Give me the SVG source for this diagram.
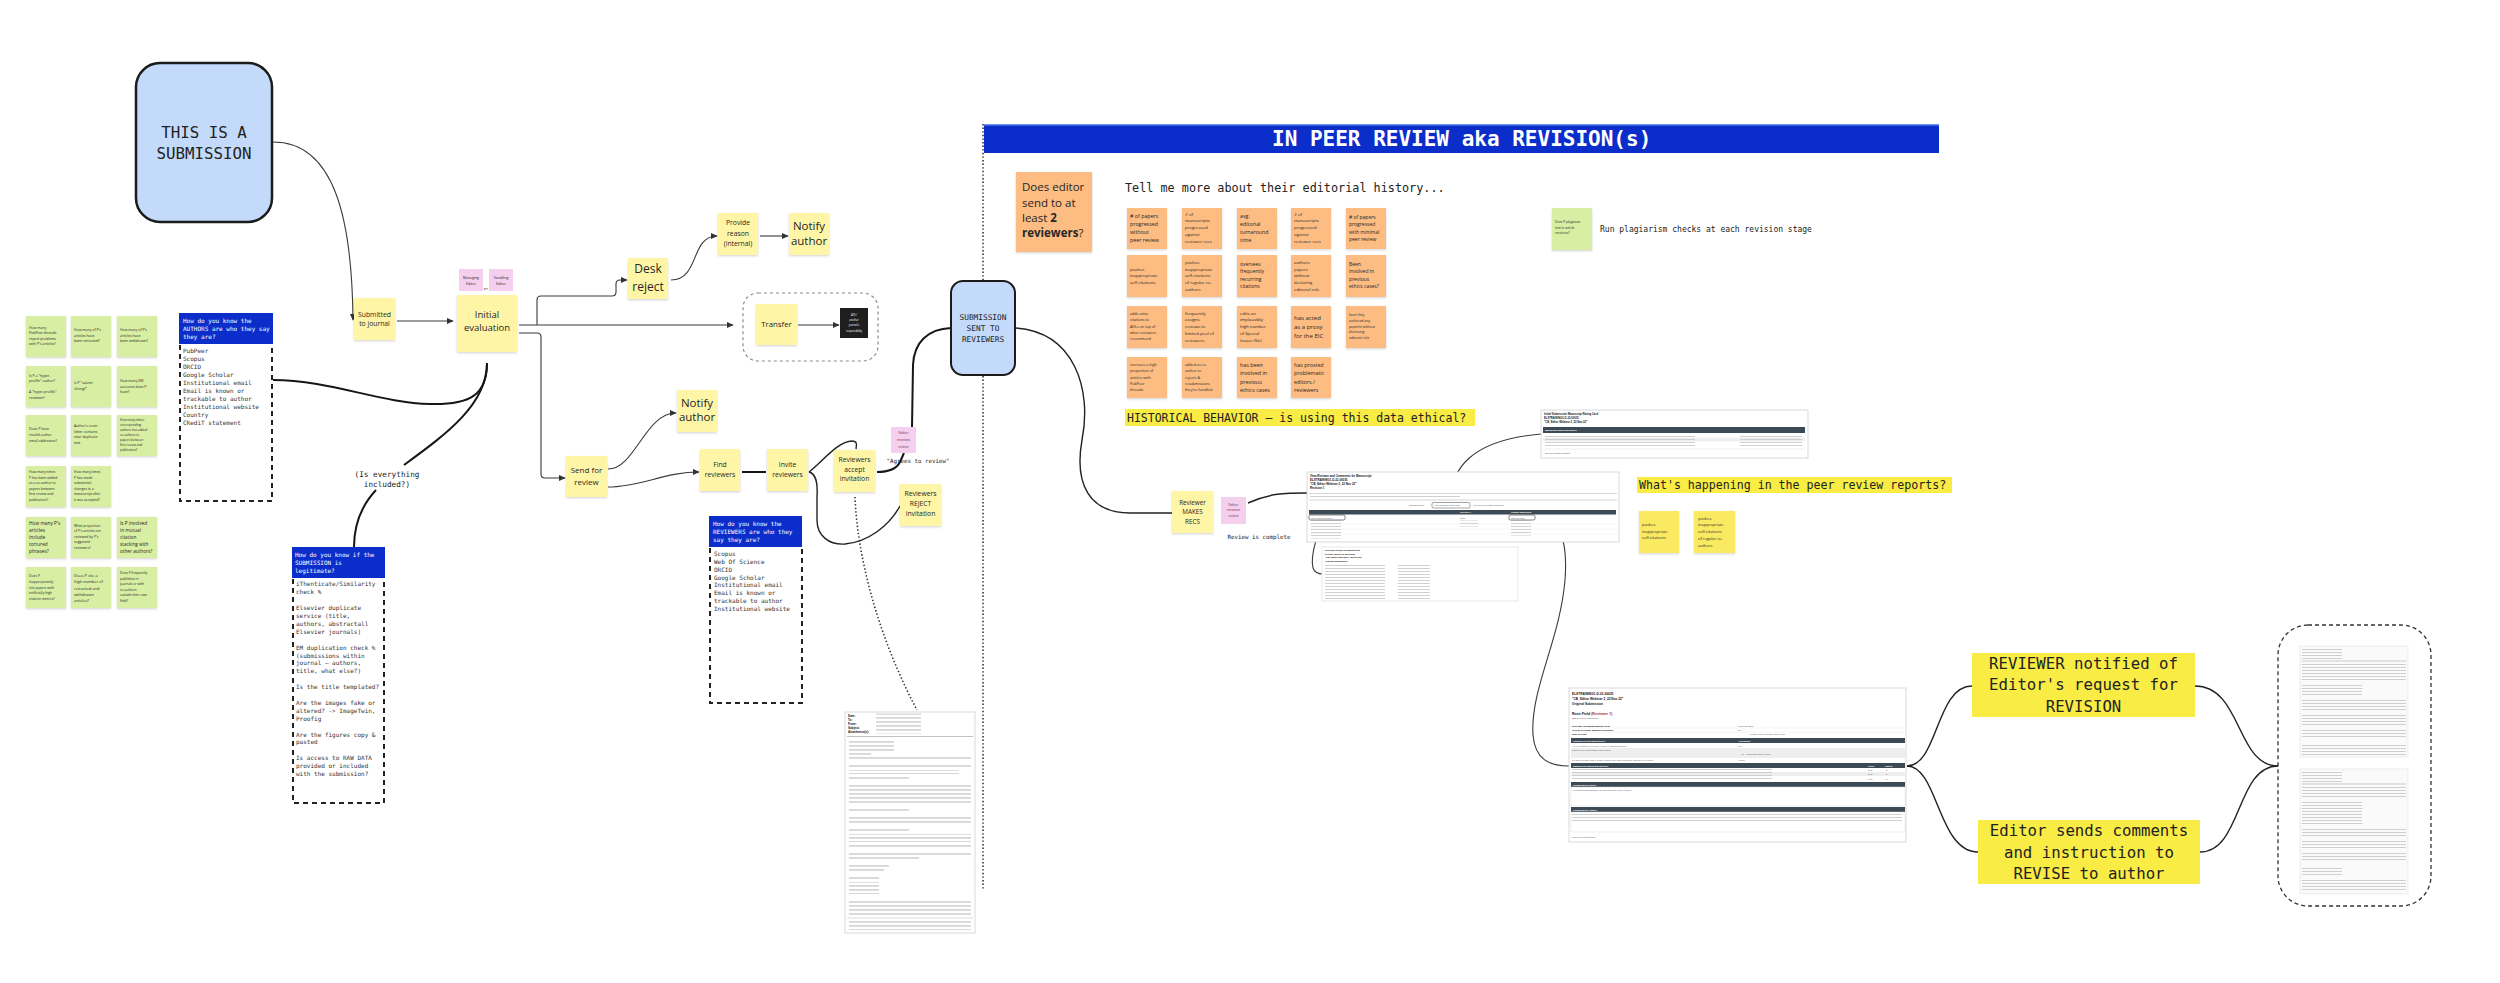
<svg xmlns="http://www.w3.org/2000/svg" width="2500" height="983" viewBox="0 0 2500 983">
<defs>
<filter id="sh" x="-15%" y="-15%" width="130%" height="140%"><feDropShadow dx="0" dy="1.2" stdDeviation="1" flood-color="#000" flood-opacity="0.16"/></filter>
<marker id="ah" viewBox="0 0 10 10" refX="9" refY="5" markerWidth="7" markerHeight="7" markerUnits="userSpaceOnUse" orient="auto"><path d="M0,0.5 L10,5 L0,9.5 z" fill="#333"/></marker>
<pattern id="tl" width="8" height="4" patternUnits="userSpaceOnUse"><rect y="1.4" width="8" height="1.1" fill="#bdbdbd"/></pattern>
<pattern id="tl2" width="8" height="3" patternUnits="userSpaceOnUse"><rect y="1" width="8" height="0.8" fill="#c4c4c4"/></pattern>
<style>
.sn{font-family:"Open Sans","Noto Sans","Liberation Sans",sans-serif;fill:#262626}
.mn{font-family:"DejaVu Sans Mono","Liberation Mono",monospace;fill:#222}
.c{text-anchor:middle}
.ys{fill:#fef6a6;filter:url(#sh)}
.gs{fill:#d7eea3;filter:url(#sh)}
.os{fill:#fcbc82;filter:url(#sh)}
.ps{fill:#f5d0ee}
.hy{fill:#f8ec45}
.bh{fill:#0b2ecb}
.wt{fill:#fff}
.db{fill:none;stroke:#222;stroke-width:2;stroke-dasharray:5 4}
.ar{fill:none;stroke:#3a3a3a;stroke-width:1.1;marker-end:url(#ah)}
.ln{fill:none;stroke:#3a3a3a;stroke-width:1.1}
.tk{fill:none;stroke:#161616;stroke-width:2}
.md{fill:none;stroke:#222;stroke-width:1.4}
.dt{fill:none;stroke:#333;stroke-width:1.6;stroke-dasharray:1.4 2.2}
.doc{fill:#fff;stroke:#cfcfcf;stroke-width:0.8}
.dk{fill:#3c4a56}
.tb{font-family:"Liberation Sans",Arial,sans-serif;font-weight:bold;fill:#111}
.tt{font-family:"Liberation Sans",Arial,sans-serif;fill:#555}
.tw{font-family:"Liberation Sans",Arial,sans-serif;font-weight:bold;fill:#fff}
</style>
</defs>
<rect width="2500" height="983" fill="#ffffff"/>

<g id="connectors">
<path class="ar" d="M273,142 C335,142 352,220 353,320"/>
<path class="ar" d="M397,321 H453"/>
<path class="ar" d="M537,325 V300 Q537,296 541,296 H612 Q616,296 616,292 V284 Q616,280 620,280 H627"/>
<path class="ar" d="M519,325 H733"/>
<path class="ar" d="M519,333 H537 Q541,333 541,337 V474 Q541,478 545,478 H565"/>
<path class="ar" d="M671,280 C700,280 690,236 717,236"/>
<path class="ar" d="M760,236 H788"/>
<path class="ar" d="M798,325 H839"/>
<path class="ar" d="M608,469 C635,469 645,413 676,413"/>
<path class="ar" d="M608,487 C640,487 665,472 699,472"/>
<path class="tk" d="M742,472 H766"/>
<path class="md" d="M809,472 C822,462 838,441 852,441 C857,441 857,444 856,449"/>
<path class="md" d="M809,472 C816,474 818,482 817,497 L817,520 C817,536 829,545 845,544 C868,542 889,526 900,506"/>
<path class="tk" d="M877,472 C889,472 897,468 900,462 L904,453"/>
<path class="tk" d="M912,427 L913,365 C914,342 928,329 951,328"/>
<path class="dt" d="M855,497 C858,570 885,650 917,710"/>
<path class="dt" d="M983,124 V890"/>
<path class="tk" d="M487,363 C487,395 470,405 430,404 C380,403 330,380 273,380"/>
<path class="tk" d="M487,363 C487,405 445,435 404,465"/>
<path class="tk" d="M376,490 C362,505 354,525 354,547"/>
<path class="md" d="M1015,328 C1075,332 1092,390 1082,440 C1074,485 1090,513 1130,513 L1172,513"/>
<path class="md" d="M1248,503 C1270,493 1285,493 1307,493"/>
<path class="ln" d="M1451,502 C1450,470 1470,440 1541,434"/>
<path class="ln" d="M1326,518 C1318,530 1310,555 1313,568 C1315,574 1320,574 1323,574"/>
<path class="ln" d="M1534,517 C1560,515 1568,540 1565,580 C1560,640 1530,690 1533,735 C1535,760 1550,766 1569,766"/>
<path class="md" d="M1907,766 C1938,766 1936,686 1972,686"/>
<path class="md" d="M1907,766 C1938,766 1938,852 1978,852"/>
<path class="md" d="M2195,686 C2242,686 2236,766 2278,766"/>
<path class="md" d="M2200,852 C2242,852 2236,766 2278,766"/>
</g>

<g id="n-this-is-a-submission">
<rect x="136" y="63" width="136" height="159" rx="24" fill="#c4dafa" stroke="#1b1b1b" stroke-width="2.5"/>
<text class="mn c" font-size="15.8"><tspan x="204" y="138">THIS IS A</tspan><tspan x="204" y="159">SUBMISSION</tspan></text>
</g>

<g id="n-submitted"><rect class="ys" x="354" y="298" width="41" height="42"/><text class="sn c" font-size="6.8"><tspan x="374.5" y="316.5">Submitted</tspan><tspan x="374.5" y="325.8">to journal</tspan></text></g>

<g id="n-initial-evaluation">
<rect class="ys" x="457" y="295" width="60" height="57"/>
<text class="sn c" font-size="9.5"><tspan x="487" y="317.5">Initial</tspan><tspan x="487" y="330.5">evaluation</tspan></text>
<rect class="ps" x="459" y="269" width="24" height="22"/>
<text class="sn c" font-size="3.5"><tspan x="471" y="279">Managing</tspan><tspan x="471" y="284.5">Editor</tspan></text>
<rect class="ps" x="489" y="269" width="24" height="22"/>
<text class="sn c" font-size="3.5"><tspan x="501" y="279">Handling</tspan><tspan x="501" y="284.5">Editor</tspan></text>
<text class="mn c" x="486" y="289.5" font-size="3.6">or</text>
</g>

<g id="n-desk-reject"><rect class="ys" x="628" y="258" width="40" height="41"/><text class="sn c" font-size="12"><tspan x="648" y="273">Desk</tspan><tspan x="648" y="291">reject</tspan></text></g>
<g id="n-provide-reason"><rect class="ys" x="718" y="213" width="40" height="42"/><text class="sn c" font-size="6.8"><tspan x="738" y="225.4">Provide</tspan><tspan x="738" y="235.7">reason</tspan><tspan x="738" y="246.4">(internal)</tspan></text></g>
<g id="n-notify-author-1"><rect class="ys" x="789" y="213" width="40" height="42"/><text class="sn c" font-size="11.5"><tspan x="809" y="230">Notify</tspan><tspan x="809" y="244.7">author</tspan></text></g>

<g id="n-transfer-frame">
<rect x="743" y="293" width="135" height="68" rx="15" fill="none" stroke="#8a8a8a" stroke-width="1.2" stroke-dasharray="3 3"/>
<rect class="ys" x="756" y="304" width="41" height="41"/><text class="sn c" x="776.5" y="326.7" font-size="7.8">Transfer</text>
<rect x="840" y="308" width="28" height="30" fill="#1e1e1e"/>
<text class="sn c" font-size="2.6" style="fill:#fff"><tspan x="854" y="315.8">ATS /</tspan><tspan x="854" y="321">another</tspan><tspan x="854" y="326.4">journal's</tspan><tspan x="854" y="331.6">responsibility</tspan></text>
</g>

<g id="n-send-for-review"><rect class="ys" x="566" y="456" width="41" height="41"/><text class="sn c" font-size="8"><tspan x="586.5" y="472.8">Send for</tspan><tspan x="586.5" y="484.5">review</tspan></text></g>
<g id="n-notify-author-2"><rect class="ys" x="677" y="390" width="40" height="42"/><text class="sn c" font-size="11.5"><tspan x="697" y="407.3">Notify</tspan><tspan x="697" y="421.3">author</tspan></text></g>
<g id="n-find-reviewers"><rect class="ys" x="700" y="449" width="40" height="42"/><text class="sn c" font-size="6.8"><tspan x="720" y="466.7">Find</tspan><tspan x="720" y="476.7">reviewers</tspan></text></g>
<g id="n-invite-reviewers"><rect class="ys" x="767" y="449" width="41" height="42"/><text class="sn c" font-size="6.8"><tspan x="787.5" y="466.7">Invite</tspan><tspan x="787.5" y="476.7">reviewers</tspan></text></g>
<g id="n-reviewers-accept"><rect class="ys" x="834" y="450" width="41" height="42"/><text class="sn c" font-size="6.8"><tspan x="854.5" y="461.7">Reviewers</tspan><tspan x="854.5" y="471.7">accept</tspan><tspan x="854.5" y="481.4">invitation</tspan></text></g>
<g id="n-reviewers-reject"><rect class="ys" x="900" y="484" width="41" height="42"/><text class="sn c" font-size="6.8"><tspan x="920.5" y="496.4">Reviewers</tspan><tspan x="920.5" y="506.4">REJECT</tspan><tspan x="920.5" y="516">invitation</tspan></text></g>
<g id="n-editor-notice-1"><rect class="ps" x="891" y="427" width="25" height="26"/><text class="sn c" font-size="3.6" style="fill:#6a2a5a"><tspan x="903.5" y="434">Editor</tspan><tspan x="903.5" y="441.3">receives</tspan><tspan x="903.5" y="448.3">notice</tspan></text></g>
<text id="l-agrees" class="mn c" x="918" y="463" font-size="5.8">"Agrees to review"</text>
<text id="l-everything" class="mn c" font-size="7.7"><tspan x="387" y="476.7">(Is everything</tspan><tspan x="387" y="487">included?)</tspan></text>

<g id="n-submission-sent">
<rect x="951" y="281" width="64" height="94" rx="12" fill="#c4dafa" stroke="#1b1b1b" stroke-width="2"/>
<text class="mn c" font-size="7.8"><tspan x="983" y="319.5">SUBMISSION</tspan><tspan x="983" y="330.5">SENT TO</tspan><tspan x="983" y="341.5">REVIEWERS</tspan></text>
</g>

<g id="n-authors-box">
<rect class="bh" x="179" y="313" width="94" height="31"/>
<text class="mn" font-size="6" style="fill:#fff"><tspan x="183" y="322.8">How do you know the</tspan><tspan x="183" y="330.8">AUTHORS are who they say</tspan><tspan x="183" y="338.8">they are?</tspan></text>
<path class="db" d="M180,345 V501 H272 V345"/>
<text class="mn" font-size="6" style="fill:#333"><tspan x="183" y="353">PubPeer</tspan><tspan x="183" y="361">Scopus</tspan><tspan x="183" y="369">ORCID</tspan><tspan x="183" y="377">Google Scholar</tspan><tspan x="183" y="385">Institutional email</tspan><tspan x="183" y="393">Email is known or</tspan><tspan x="183" y="401">trackable to author</tspan><tspan x="183" y="409">Institutional website</tspan><tspan x="183" y="417">Country</tspan><tspan x="183" y="425">CRediT statement</tspan></text>
</g>

<g id="n-legitimate-box">
<rect class="bh" x="292" y="547" width="93" height="31"/>
<text class="mn" font-size="6" style="fill:#fff"><tspan x="295" y="556.5">How do you know if the</tspan><tspan x="295" y="564.5">SUBMISSION is</tspan><tspan x="295" y="572.5">legitimate?</tspan></text>
<path class="db" d="M293,579 V803 H384 V579"/>
<text class="mn" font-size="6" style="fill:#333"><tspan x="296" y="586.4">iThenticate/Similarity</tspan><tspan x="296" y="594.3">check %</tspan><tspan x="296" y="610.1">Elsevier duplicate</tspan><tspan x="296" y="618">service (title,</tspan><tspan x="296" y="625.9">authors, abstractall</tspan><tspan x="296" y="633.8">Elsevier journals)</tspan><tspan x="296" y="649.6">EM duplication check %</tspan><tspan x="296" y="657.5">(submissions within</tspan><tspan x="296" y="665.4">journal – authors,</tspan><tspan x="296" y="673.3">title, what else?)</tspan><tspan x="296" y="689.1">Is the title templated?</tspan><tspan x="296" y="704.9">Are the images fake or</tspan><tspan x="296" y="712.8">altered? -&gt; ImageTwin,</tspan><tspan x="296" y="720.7">Proofig</tspan><tspan x="296" y="736.5">Are the figures copy &amp;</tspan><tspan x="296" y="744.4">pasted</tspan><tspan x="296" y="760.2">Is access to RAW DATA</tspan><tspan x="296" y="768.1">provided or included</tspan><tspan x="296" y="776">with the submission?</tspan></text>
</g>

<g id="n-reviewers-box">
<rect class="bh" x="709" y="516" width="93" height="31"/>
<text class="mn" font-size="6" style="fill:#fff"><tspan x="713" y="525.5">How do you know the</tspan><tspan x="713" y="534">REVIEWERS are who they</tspan><tspan x="713" y="542">say they are?</tspan></text>
<path class="db" d="M710,548 V703 H802 V548"/>
<text class="mn" font-size="6" style="fill:#333"><tspan x="714" y="555.8">Scopus</tspan><tspan x="714" y="563.7">Web Of Science</tspan><tspan x="714" y="571.6">ORCID</tspan><tspan x="714" y="579.5">Google Scholar</tspan><tspan x="714" y="587.4">Institutional email</tspan><tspan x="714" y="595.3">Email is known or</tspan><tspan x="714" y="603.2">trackable to author</tspan><tspan x="714" y="611.1">Institutional website</tspan></text>
</g>

<g id="n-green-questions">
<rect class="gs" x="26" y="316" width="40" height="41"/><text class="sn" font-size="3.5"><tspan x="29" y="328.5">How many</tspan><tspan x="29" y="334">PubPeer threads</tspan><tspan x="29" y="339.5">report problems</tspan><tspan x="29" y="345">with P's articles?</tspan></text>
<rect class="gs" x="71" y="316" width="40" height="41"/><text class="sn" font-size="3.5"><tspan x="74" y="331">How many of P's</tspan><tspan x="74" y="336.5">articles have</tspan><tspan x="74" y="342">been retracted?</tspan></text>
<rect class="gs" x="117" y="316" width="40" height="41"/><text class="sn" font-size="3.5"><tspan x="120" y="331">How many of P's</tspan><tspan x="120" y="336.5">articles have</tspan><tspan x="120" y="342">been withdrawn?</tspan></text>
<rect class="gs" x="26" y="366" width="40" height="41"/><text class="sn" font-size="3.5"><tspan x="29" y="376.5">Is P a "hyper-</tspan><tspan x="29" y="382">prolific" author?</tspan><tspan x="29" y="393">A "hyper-prolific"</tspan><tspan x="29" y="398.5">reviewer?</tspan></text>
<rect class="gs" x="71" y="366" width="40" height="41"/><text class="sn" font-size="3.5"><tspan x="74" y="384">Is P "salami</tspan><tspan x="74" y="389.6">slicing?"</tspan></text>
<rect class="gs" x="117" y="366" width="40" height="41"/><text class="sn" font-size="3.5"><tspan x="120" y="382.2">How many EM</tspan><tspan x="120" y="387.8">accounts does P</tspan><tspan x="120" y="393.4">have?</tspan></text>
<rect class="gs" x="26" y="415" width="40" height="41"/><text class="sn" font-size="3.5"><tspan x="29" y="430">Does P have</tspan><tspan x="29" y="435.8">invalid author</tspan><tspan x="29" y="441.6">email addresses?</tspan></text>
<rect class="gs" x="71" y="415" width="40" height="41"/><text class="sn" font-size="3.5"><tspan x="74" y="427.2">Author's cover</tspan><tspan x="74" y="432.8">letter contains</tspan><tspan x="74" y="438.4">near duplicate</tspan><tspan x="74" y="444">text</tspan></text>
<rect class="gs" x="117" y="415" width="40" height="41"/><text class="sn" font-size="3.1"><tspan x="120" y="421.2">How many times</tspan><tspan x="120" y="426.1">corresponding</tspan><tspan x="120" y="431">authors has added</tspan><tspan x="120" y="435.9">co-authors to</tspan><tspan x="120" y="440.8">papers between</tspan><tspan x="120" y="445.7">first review and</tspan><tspan x="120" y="450.6">publication?</tspan></text>
<rect class="gs" x="26" y="466" width="40" height="41"/><text class="sn" font-size="3.4"><tspan x="29" y="473">How many times</tspan><tspan x="29" y="478.6">P has been added</tspan><tspan x="29" y="484.2">as a co-author to</tspan><tspan x="29" y="489.8">papers between</tspan><tspan x="29" y="495.4">first review and</tspan><tspan x="29" y="501">publication?</tspan></text>
<rect class="gs" x="71" y="466" width="40" height="41"/><text class="sn" font-size="3.4"><tspan x="74" y="473">How many times</tspan><tspan x="74" y="478.6">P has made</tspan><tspan x="74" y="484.2">substantial</tspan><tspan x="74" y="489.8">changes to a</tspan><tspan x="74" y="495.4">manuscript after</tspan><tspan x="74" y="501">it was accepted?</tspan></text>
<rect class="gs" x="26" y="517" width="40" height="41"/><text class="sn" font-size="4.8"><tspan x="29" y="524.5">How many P's</tspan><tspan x="29" y="531.5">articles</tspan><tspan x="29" y="538.5">include</tspan><tspan x="29" y="545.5">tortured</tspan><tspan x="29" y="552.5">phrases?</tspan></text>
<rect class="gs" x="71" y="517" width="40" height="41"/><text class="sn" font-size="3.4"><tspan x="74" y="526.5">What proportion</tspan><tspan x="74" y="532">of P's articles are</tspan><tspan x="74" y="537.5">reviewed by P's</tspan><tspan x="74" y="543">suggested</tspan><tspan x="74" y="548.5">reviewers?</tspan></text>
<rect class="gs" x="117" y="517" width="40" height="41"/><text class="sn" font-size="4.7"><tspan x="120" y="524.5">Is P involved</tspan><tspan x="120" y="531.5">in mutual</tspan><tspan x="120" y="538.5">citation</tspan><tspan x="120" y="545.5">stacking with</tspan><tspan x="120" y="552.5">other authors?</tspan></text>
<rect class="gs" x="26" y="567" width="40" height="41"/><text class="sn" font-size="3.4"><tspan x="29" y="577.3">Does P</tspan><tspan x="29" y="582.9">inappropriately</tspan><tspan x="29" y="588.5">cite papers with</tspan><tspan x="29" y="594.1">artificially high</tspan><tspan x="29" y="599.7">citation metrics?</tspan></text>
<rect class="gs" x="71" y="567" width="40" height="41"/><text class="sn" font-size="4"><tspan x="74" y="577">Does P cite a</tspan><tspan x="74" y="583.3">high number of</tspan><tspan x="74" y="589.6">retracted and</tspan><tspan x="74" y="595.9">withdrawn</tspan><tspan x="74" y="602.2">articles?</tspan></text>
<rect class="gs" x="117" y="567" width="40" height="41"/><text class="sn" font-size="3.3"><tspan x="120" y="574">Does P frequently</tspan><tspan x="120" y="579.6">publishes in</tspan><tspan x="120" y="585.2">journals or with</tspan><tspan x="120" y="590.8">co-authors</tspan><tspan x="120" y="596.4">outside their own</tspan><tspan x="120" y="602">field?</tspan></text>
</g>

<g id="n-email-doc">
<rect class="doc" x="845" y="712" width="130" height="221"/>
<text class="tb" font-size="3"><tspan x="848" y="716.5">Date:</tspan><tspan x="848" y="720.6">To:</tspan><tspan x="848" y="724.7">From:</tspan><tspan x="848" y="728.8">Subject:</tspan><tspan x="848" y="733.2">Attachment(s):</tspan></text>
<rect x="876" y="713.5" width="45" height="20" fill="url(#tl)"/>
<line x1="847" y1="736.5" x2="973" y2="736.5" stroke="#999" stroke-width="0.6"/>
<rect x="849" y="739" width="45" height="12" fill="url(#tl)"/>
<rect x="849" y="751" width="22" height="4" fill="url(#tl)"/>
<rect x="849" y="757" width="122" height="4" fill="url(#tl)"/>
<rect x="849" y="764" width="122" height="4" fill="url(#tl)"/>
<rect x="849" y="770" width="110" height="4" fill="url(#tl)"/>
<rect x="849" y="777" width="60" height="4" fill="url(#tl)"/>
<rect x="849" y="783" width="122" height="4" fill="url(#tl)"/>
<rect x="849" y="789" width="122" height="16" fill="url(#tl)"/>
<rect x="849" y="808" width="60" height="4" fill="url(#tl)"/>
<rect x="849" y="815" width="122" height="8" fill="url(#tl)"/>
<rect x="849" y="827" width="60" height="4" fill="url(#tl)"/>
<rect x="849" y="834" width="122" height="8" fill="url(#tl)"/>
<rect x="849" y="845" width="122" height="4" fill="url(#tl)"/>
<rect x="849" y="851" width="122" height="4" fill="url(#tl)"/>
<rect x="849" y="857" width="70" height="4" fill="url(#tl)"/>
<rect x="849" y="863" width="40" height="4" fill="url(#tl)"/>
<rect x="849" y="869" width="35" height="4" fill="url(#tl)"/>
<rect x="849" y="876" width="30" height="4" fill="url(#tl)"/>
<rect x="849" y="882" width="30" height="12" fill="url(#tl)"/>
<rect x="849" y="899" width="122" height="16" fill="url(#tl)"/>
<line x1="847" y1="918" x2="973" y2="918" stroke="#bbb" stroke-width="0.5"/>
<rect x="849" y="920" width="122" height="10" fill="url(#tl)"/>
</g>

<g id="n-peer-review-header">
<rect x="984" y="124" width="955" height="29" fill="#0b2ecb"/>
<rect x="984" y="124" width="955" height="1.5" fill="#6f8ff0"/>
<text class="mn" x="1272" y="146" font-size="21" font-weight="bold" style="fill:#fff">IN PEER REVIEW aka REVISION(s)</text>
</g>

<g id="n-does-editor">
<rect class="os" x="1016" y="172" width="76" height="80"/>
<text class="sn" font-size="11.5"><tspan x="1022" y="191.3">Does editor</tspan><tspan x="1022" y="207">send to at</tspan><tspan x="1022" y="222">least <tspan font-weight="bold">2</tspan></tspan><tspan x="1022" y="237.3"><tspan font-weight="bold">reviewers</tspan>?</tspan></text>
</g>

<text id="l-tell-me" class="mn" x="1125" y="192" font-size="11.8">Tell me more about their editorial history...</text>

<g id="n-orange-history">
<rect class="os" x="1127" y="208" width="40" height="41"/><text class="sn" font-size="5.3"><tspan x="1130" y="218"># of papers</tspan><tspan x="1130" y="226">progressed</tspan><tspan x="1130" y="234">without</tspan><tspan x="1130" y="242">peer review</tspan></text>
<rect class="os" x="1182" y="208" width="40" height="41"/><text class="sn" font-size="4.3"><tspan x="1185" y="215.5"># of</tspan><tspan x="1185" y="222.4">manuscripts</tspan><tspan x="1185" y="229.3">progressed</tspan><tspan x="1185" y="236.2">against</tspan><tspan x="1185" y="243.1">reviewer recs</tspan></text>
<rect class="os" x="1237" y="208" width="40" height="41"/><text class="sn" font-size="5.3"><tspan x="1240" y="218">avg.</tspan><tspan x="1240" y="226">editorial</tspan><tspan x="1240" y="234">turnaround</tspan><tspan x="1240" y="242">time</tspan></text>
<rect class="os" x="1291" y="208" width="40" height="41"/><text class="sn" font-size="4.3"><tspan x="1294" y="215.5"># of</tspan><tspan x="1294" y="222.4">manuscripts</tspan><tspan x="1294" y="229.3">progressed</tspan><tspan x="1294" y="236.2">against</tspan><tspan x="1294" y="243.1">reviewer recs</tspan></text>
<rect class="os" x="1346" y="208" width="40" height="41"/><text class="sn" font-size="5"><tspan x="1349" y="218.5"># of papers</tspan><tspan x="1349" y="226">progressed</tspan><tspan x="1349" y="233.5">with minimal</tspan><tspan x="1349" y="241">peer review</tspan></text>
<rect class="os" x="1127" y="255" width="40" height="42"/><text class="sn" font-size="4.3"><tspan x="1130" y="270.5">pushes</tspan><tspan x="1130" y="277.2">inappropriate</tspan><tspan x="1130" y="283.9">self-citations</tspan></text>
<rect class="os" x="1182" y="255" width="40" height="42"/><text class="sn" font-size="4.3"><tspan x="1185" y="263.8">pushes</tspan><tspan x="1185" y="270.5">inappropriate</tspan><tspan x="1185" y="277.2">self-citations</tspan><tspan x="1185" y="283.9">of regular co-</tspan><tspan x="1185" y="290.6">authors</tspan></text>
<rect class="os" x="1237" y="255" width="40" height="42"/><text class="sn" font-size="5"><tspan x="1240" y="266">oversees</tspan><tspan x="1240" y="273.4">frequently</tspan><tspan x="1240" y="280.8">recurring</tspan><tspan x="1240" y="288.2">citations</tspan></text>
<rect class="os" x="1291" y="255" width="40" height="42"/><text class="sn" font-size="4.3"><tspan x="1294" y="263.8">authors</tspan><tspan x="1294" y="270.5">papers</tspan><tspan x="1294" y="277.2">without</tspan><tspan x="1294" y="283.9">declaring</tspan><tspan x="1294" y="290.6">editorial role</tspan></text>
<rect class="os" x="1346" y="255" width="40" height="42"/><text class="sn" font-size="5"><tspan x="1349" y="266">Been</tspan><tspan x="1349" y="273.4">involved in</tspan><tspan x="1349" y="280.8">previous</tspan><tspan x="1349" y="288.2">ethics cases?</tspan></text>
<rect class="os" x="1127" y="306" width="40" height="42"/><text class="sn" font-size="3.7"><tspan x="1130" y="315">adds extra</tspan><tspan x="1130" y="321.25">citations to</tspan><tspan x="1130" y="327.5">ADLs on top of</tspan><tspan x="1130" y="333.75">what reviewers</tspan><tspan x="1130" y="340">recommend</tspan></text>
<rect class="os" x="1182" y="306" width="40" height="42"/><text class="sn" font-size="4.3"><tspan x="1185" y="314.5">frequently</tspan><tspan x="1185" y="321.2">assigns</tspan><tspan x="1185" y="328">reviews to</tspan><tspan x="1185" y="334.7">limited pool of</tspan><tspan x="1185" y="341.5">reviewers</tspan></text>
<rect class="os" x="1237" y="306" width="40" height="42"/><text class="sn" font-size="4.3"><tspan x="1240" y="314.5">edits an</tspan><tspan x="1240" y="321.2">implausibly</tspan><tspan x="1240" y="328">high number</tspan><tspan x="1240" y="334.7">of Special</tspan><tspan x="1240" y="341.5">Issues (SIs)</tspan></text>
<rect class="os" x="1291" y="306" width="40" height="42"/><text class="sn" font-size="6"><tspan x="1294" y="319.5">has acted</tspan><tspan x="1294" y="328.7">as a proxy</tspan><tspan x="1294" y="337.9">for the EIC</tspan></text>
<rect class="os" x="1346" y="306" width="40" height="42"/><text class="sn" font-size="3.4"><tspan x="1349" y="316.2">have they</tspan><tspan x="1349" y="321.9">authored any</tspan><tspan x="1349" y="327.6">paper(s) without</tspan><tspan x="1349" y="333.3">disclosing</tspan><tspan x="1349" y="339">editorial role</tspan></text>
<rect class="os" x="1127" y="357" width="40" height="41"/><text class="sn" font-size="3.7"><tspan x="1130" y="366">oversees a high</tspan><tspan x="1130" y="372.25">proportion of</tspan><tspan x="1130" y="378.5">articles with</tspan><tspan x="1130" y="384.75">PubPeer</tspan><tspan x="1130" y="391">threads</tspan></text>
<rect class="os" x="1182" y="357" width="40" height="41"/><text class="sn" font-size="3.7"><tspan x="1185" y="366">added as co-</tspan><tspan x="1185" y="372.25">author to</tspan><tspan x="1185" y="378.5">rejects &amp;</tspan><tspan x="1185" y="384.75">resubmissions</tspan><tspan x="1185" y="391">they've handled</tspan></text>
<rect class="os" x="1237" y="357" width="40" height="41"/><text class="sn" font-size="5.4"><tspan x="1240" y="367.3">has been</tspan><tspan x="1240" y="375.4">involved in</tspan><tspan x="1240" y="383.5">previous</tspan><tspan x="1240" y="391.6">ethics cases</tspan></text>
<rect class="os" x="1291" y="357" width="40" height="41"/><text class="sn" font-size="5.4"><tspan x="1294" y="367.3">has proxied</tspan><tspan x="1294" y="375.4">problematic</tspan><tspan x="1294" y="383.5">editors /</tspan><tspan x="1294" y="391.6">reviewers</tspan></text>
</g>

<g id="l-historical"><rect class="hy" x="1125" y="409" width="350" height="17"/><text class="mn" x="1127" y="421.5" font-size="11.5">HISTORICAL BEHAVIOR — is using this data ethical?</text></g>

<g id="n-plagiarism"><rect class="gs" x="1552" y="208" width="40" height="42"/><text class="sn" font-size="3.2"><tspan x="1555" y="223.4">Does P plagiarize</tspan><tspan x="1555" y="228.8">text in article</tspan><tspan x="1555" y="234.4">revisions?</tspan></text></g>
<text id="l-plagiarism" class="mn" x="1600" y="232" font-size="8">Run plagiarism checks at each revision stage</text>

<g id="n-reviewer-makes-recs"><rect class="ys" x="1172" y="491" width="41" height="42"/><text class="sn c" font-size="6.3"><tspan x="1192.5" y="504.5">Reviewer</tspan><tspan x="1192.5" y="514">MAKES</tspan><tspan x="1192.5" y="523.5">RECS</tspan></text></g>
<g id="n-editor-notice-2"><rect class="ps" x="1221" y="497" width="25" height="27"/><text class="sn c" font-size="3.5" style="fill:#6a2a5a"><tspan x="1233.5" y="505.5">Editor</tspan><tspan x="1233.5" y="511">receives</tspan><tspan x="1233.5" y="516.5">notice</tspan></text></g>
<text id="l-review-complete" class="mn c" x="1259" y="538.5" font-size="5.8">Review is complete</text>

<g id="n-doc-rating-card">
<rect class="doc" x="1541" y="410" width="267" height="48"/>
<text class="tb" font-size="2.7"><tspan x="1544" y="414.5">Initial Submission Manuscript Rating Card</tspan><tspan x="1544" y="418.5">ELSTRAINING1-D-22-00035</tspan><tspan x="1544" y="422.5">"CB_Editor Webinar 2_22 Nov 22"</tspan></text>
<rect class="dk" x="1543" y="427" width="262" height="6"/>
<text class="tw" x="1545" y="431.2" font-size="2.2">Manuscript Rating Question(s)</text>
<rect x="1543" y="437.5" width="262" height="4" fill="#efefef"/>
<rect x="1545" y="434" width="150" height="12" fill="url(#tl2)"/>
<rect x="1740" y="434" width="62" height="12" fill="url(#tl2)"/>
<line x1="1543" y1="449" x2="1805" y2="449" stroke="#ddd" stroke-width="0.5"/>
<text class="tt" x="1545" y="454" font-size="2.2">Overall Manuscript Rating</text>
</g>

<g id="n-doc-view-reviews">
<rect class="doc" x="1307" y="472" width="312" height="70"/>
<text class="tb" font-size="2.9"><tspan x="1310" y="476.5">View Reviews and Comments for Manuscript</tspan><tspan x="1310" y="480.7">ELSTRAINING1-D-22-00035</tspan><tspan x="1310" y="484.9">"CB_Editor Webinar 2_22 Nov 22"</tspan><tspan x="1310" y="489.1">Revision 1</tspan></text>
<line x1="1309" y1="493.5" x2="1617" y2="493.5" stroke="#aaa" stroke-width="0.5"/>
<rect x="1310" y="495.5" width="150" height="3" fill="url(#tl2)"/>
<line x1="1309" y1="500" x2="1617" y2="500" stroke="#aaa" stroke-width="0.5"/>
<text class="tt" x="1408" y="506" font-size="2.2">Assessments (2)</text>
<rect x="1432" y="502.5" width="38" height="5.5" rx="1.5" fill="none" stroke="#444" stroke-width="0.5"/>
<text class="tt" x="1434" y="506" font-size="2">View Manuscript Rating Card</text>
<text class="tt" x="1473" y="506" font-size="2">View Review Question Responses</text>
<rect class="dk" x="1309" y="510" width="307" height="4.5"/>
<text class="tw" font-size="2.1"><tspan x="1460" y="513.3">Reviewer 1</tspan><tspan x="1511" y="513.3">Original Submission</tspan></text>
<text class="tt" font-size="2.1"><tspan x="1311" y="518.6">Rose Field (Reviewer 1)</tspan><tspan x="1460" y="518.6">Minor</tspan><tspan x="1511" y="518.6">Minor Revision</tspan></text>
<rect x="1311" y="520.5" width="30" height="18" fill="url(#tl2)"/>
<rect x="1460" y="520.5" width="18" height="6" fill="url(#tl2)"/>
<rect x="1511" y="520.5" width="20" height="15" fill="url(#tl2)"/>
<line x1="1309" y1="524" x2="1617" y2="524" stroke="#e2e2e2" stroke-width="0.4"/>
<line x1="1309" y1="529" x2="1617" y2="529" stroke="#e2e2e2" stroke-width="0.4"/>
<line x1="1309" y1="534" x2="1617" y2="534" stroke="#e2e2e2" stroke-width="0.4"/>
<rect x="1309" y="515" width="36" height="5" rx="1.5" fill="none" stroke="#333" stroke-width="0.6"/>
<rect x="1509" y="515" width="26" height="5" rx="1.5" fill="none" stroke="#333" stroke-width="0.6"/>
</g>

<g id="n-doc-reviewer-details">
<rect class="doc" x="1322" y="547" width="196" height="54" style="stroke:#e4e4e4"/>
<text class="tb" font-size="2.3"><tspan x="1325" y="551">Reviewer Details for Manuscript</tspan><tspan x="1325" y="554.5">ELSTRAINING1-D-22-00035</tspan><tspan x="1325" y="558">"CB_Editor Webinar 2_22 Nov 22"</tspan><tspan x="1325" y="561.5">Original Submission</tspan></text>
<rect x="1325" y="564" width="60" height="35" fill="url(#tl2)"/>
<rect x="1398" y="564" width="32" height="35" fill="url(#tl2)"/>
</g>

<g id="l-whats-happening"><rect class="hy" x="1637" y="477" width="315" height="16"/><text class="mn" x="1639" y="489" font-size="11.6">What's happening in the peer review reports?</text></g>

<g id="n-yellow-pushes-1"><rect x="1639" y="511" width="40" height="42" fill="#f9ea62" filter="url(#sh)"/><text class="sn" font-size="4"><tspan x="1642" y="526.4">pushes</tspan><tspan x="1642" y="532.7">inappropriate</tspan><tspan x="1642" y="539">self-citations</tspan></text></g>
<g id="n-yellow-pushes-2"><rect x="1694" y="511" width="41" height="42" fill="#f9ea62" filter="url(#sh)"/><text class="sn" font-size="4"><tspan x="1698" y="519.7">pushes</tspan><tspan x="1698" y="526.4">inappropriate</tspan><tspan x="1698" y="533.1">self-citations</tspan><tspan x="1698" y="539.8">of regular co-</tspan><tspan x="1698" y="546.5">authors</tspan></text></g>

<g id="n-doc-reviewer-comments">
<rect class="doc" x="1569" y="688" width="337" height="154"/>
<text class="tb" font-size="3.2"><tspan x="1572" y="695">ELSTRAINING1-D-22-00035</tspan><tspan x="1572" y="700">"CB_Editor Webinar 2_22 Nov 22"</tspan><tspan x="1572" y="705">Original Submission</tspan></text>
<text class="tb" x="1572" y="715" font-size="3.6">Rose Field <tspan style="fill:#b03030">(Reviewer 1)</tspan></text>
<text class="tt" x="1572" y="719" font-size="2.3">Edit Reviewer Comments</text>
<text class="tb" font-size="2.4"><tspan x="1572" y="726.5">Reviewer Recommendation Term:</tspan><tspan x="1572" y="730.7">Overall Reviewer Manuscript Rating:</tspan><tspan x="1572" y="735">Rate Review:</tspan></text>
<text class="tt" font-size="2.3"><tspan x="1738" y="726.5">Minor Revision</tspan><tspan x="1738" y="730.7">N/A</tspan><tspan x="1750" y="735">Please enter a number from 1-100</tspan></text>
<line x1="1571" y1="728" x2="1905" y2="728" stroke="#e4e4e4" stroke-width="0.4"/>
<line x1="1571" y1="732.2" x2="1905" y2="732.2" stroke="#e4e4e4" stroke-width="0.4"/>
<rect class="dk" x="1571" y="738" width="334" height="5"/>
<text class="tw" font-size="2.4"><tspan x="1573" y="741.6">Custom Review Question(s):</tspan><tspan x="1739" y="741.6">Response</tspan></text>
<text class="tt" font-size="2.2"><tspan x="1572" y="746.5">Are you willing to review the revision of this manuscript?</tspan><tspan x="1738" y="746.5">Yes</tspan></text>
<rect x="1571" y="748" width="334" height="10" fill="#eeeeee"/>
<text class="tt" font-size="2.2"><tspan x="1572" y="751">What is your overall rating of the paper?</tspan><tspan x="1741" y="754.5">• 3 - Accept with minor revision</tspan></text>
<text class="tt" font-size="2.2"><tspan x="1572" y="761">For this expedited paper, please confirm if the paper should be accepted or rejected.</tspan><tspan x="1738" y="761">Accept</tspan></text>
<rect class="dk" x="1571" y="763" width="334" height="5"/>
<text class="tw" font-size="2.4"><tspan x="1573" y="766.6">Manuscript Rating Question(s):</tspan><tspan x="1868" y="766.6">Scale</tspan><tspan x="1885" y="766.6">Rating</tspan></text>
<rect x="1571" y="772" width="334" height="4" fill="#eeeeee"/>
<rect x="1572" y="768.5" width="200" height="12" fill="url(#tl2)"/>
<text class="tt" font-size="2.2"><tspan x="1868" y="770.8">[1-3]</tspan><tspan x="1886" y="770.8">3</tspan><tspan x="1868" y="775.3">[1-3]</tspan><tspan x="1886" y="775.3">2</tspan><tspan x="1868" y="779.8">[1-3]</tspan><tspan x="1886" y="779.8">2</tspan></text>
<rect class="dk" x="1571" y="782" width="334" height="5"/>
<text class="tw" x="1573" y="785.6" font-size="2.4">Comments to Editor:</text>
<rect x="1571" y="787" width="334" height="19" fill="none" stroke="#ddd" stroke-width="0.5"/>
<text class="tt" x="1572" y="790.5" font-size="2.2">I recommend that this paper be accepted after minor revision.</text>
<rect class="dk" x="1571" y="807" width="334" height="5"/>
<text class="tw" x="1573" y="810.6" font-size="2.4">Comments to Author:</text>
<rect x="1571" y="812" width="334" height="20" fill="none" stroke="#ddd" stroke-width="0.5"/>
<rect x="1572" y="813" width="330" height="9" fill="url(#tl2)"/>
<text class="tt" x="1572" y="838" font-size="2.3">More Reviewer Details</text>
</g>

<g id="n-reviewer-notified"><rect class="hy" x="1972" y="653" width="223" height="64"/><text class="mn c" font-size="15.7"><tspan x="2083.5" y="668.5">REVIEWER notified of</tspan><tspan x="2083.5" y="690.2">Editor's request for</tspan><tspan x="2083.5" y="712">REVISION</tspan></text></g>
<g id="n-editor-sends"><rect class="hy" x="1978" y="820" width="222" height="64"/><text class="mn c" font-size="15.7"><tspan x="2089" y="836">Editor sends comments</tspan><tspan x="2089" y="857.7">and instruction to</tspan><tspan x="2089" y="879.4">REVISE to author</tspan></text></g>

<g id="n-emails-frame">
<rect x="2278" y="625" width="153" height="281" rx="30" fill="none" stroke="#333" stroke-width="1.3" stroke-dasharray="4 3"/>
<rect x="2300" y="646" width="108" height="111" fill="#fafafa" stroke="#e2e2e2" stroke-width="0.6"/>
<rect x="2302" y="648" width="40" height="12" fill="url(#tl2)"/>
<line x1="2302" y1="661" x2="2406" y2="661" stroke="#999" stroke-width="0.5"/>
<rect x="2302" y="663" width="104" height="18" fill="url(#tl2)"/>
<rect x="2302" y="684" width="60" height="12" fill="url(#tl2)"/>
<rect x="2302" y="699" width="104" height="12" fill="url(#tl2)"/>
<rect x="2302" y="714" width="104" height="12" fill="url(#tl2)"/>
<rect x="2302" y="730" width="104" height="9" fill="url(#tl2)"/>
<rect x="2302" y="743" width="104" height="12" fill="url(#tl2)"/>
<rect x="2300" y="769" width="108" height="125" fill="#fafafa" stroke="#e2e2e2" stroke-width="0.6"/>
<rect x="2302" y="771" width="40" height="12" fill="url(#tl2)"/>
<line x1="2302" y1="784" x2="2406" y2="784" stroke="#999" stroke-width="0.5"/>
<rect x="2302" y="786" width="104" height="12" fill="url(#tl2)"/>
<rect x="2302" y="800" width="60" height="24" fill="url(#tl2)"/>
<rect x="2302" y="827" width="104" height="9" fill="url(#tl2)"/>
<rect x="2302" y="840" width="104" height="9" fill="url(#tl2)"/>
<rect x="2302" y="853" width="104" height="9" fill="url(#tl2)"/>
<rect x="2302" y="866" width="40" height="9" fill="url(#tl2)"/>
<rect x="2302" y="878" width="104" height="12" fill="url(#tl2)"/>
</g>
</svg>
